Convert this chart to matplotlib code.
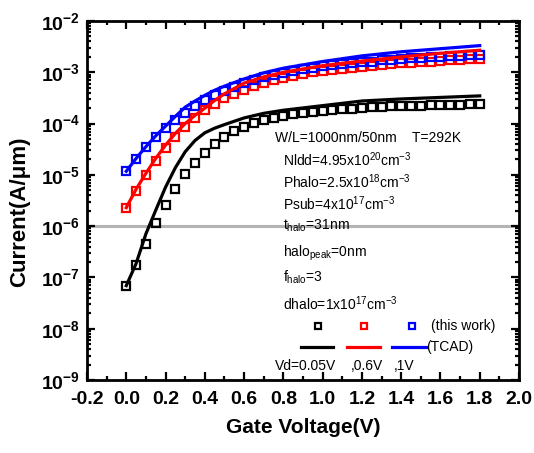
import numpy as np
import matplotlib
matplotlib.use("Agg")
import matplotlib.pyplot as plt
from matplotlib.ticker import MultipleLocator, LogLocator, FuncFormatter, NullFormatter

plt.rcParams["font.family"] = ["Liberation Sans", "DejaVu Sans"]
plt.rcParams["mathtext.fontset"] = "custom"
plt.rcParams["mathtext.rm"] = "Liberation Sans"
plt.rcParams["mathtext.it"] = "Liberation Sans"
plt.rcParams["mathtext.bf"] = "Liberation Sans:bold"

# Vg de las mediciones (this work), paso 0.05 V
vg_sq = np.round(np.arange(0, 37) * 0.05, 2)

# log10(I)
black_sq = [-7.16, -6.75, -6.34, -5.94, -5.59, -5.28, -4.99, -4.76, -4.57, -4.40,
            -4.27, -4.15, -4.06, -3.99, -3.93, -3.89, -3.85, -3.82, -3.79, -3.77,
            -3.75, -3.73, -3.72, -3.71, -3.69, -3.68, -3.67, -3.66, -3.66, -3.65,
            -3.65, -3.64, -3.64, -3.63, -3.63, -3.62, -3.62]
red_sq = [-5.65, -5.31, -5.01, -4.73, -4.48, -4.26, -4.06, -3.89, -3.74, -3.61,
          -3.50, -3.42, -3.34, -3.27, -3.21, -3.16, -3.11, -3.07, -3.03, -3.00,
          -2.97, -2.95, -2.93, -2.91, -2.89, -2.87, -2.85, -2.84, -2.82, -2.81,
          -2.80, -2.79, -2.78, -2.77, -2.76, -2.75, -2.74]
blue_sq = [-4.93, -4.70, -4.46, -4.26, -4.09, -3.93, -3.79, -3.66, -3.54, -3.44,
           -3.36, -3.28, -3.21, -3.15, -3.10, -3.05, -3.01, -2.97, -2.94, -2.91,
           -2.88, -2.86, -2.84, -2.82, -2.80, -2.79, -2.77, -2.76, -2.74, -2.73,
           -2.72, -2.71, -2.70, -2.69, -2.68, -2.67, -2.66]

# TCAD
vg_line = [0.0, 0.05, 0.1, 0.15, 0.2, 0.25, 0.3, 0.35, 0.4, 0.45, 0.5, 0.6, 0.7, 0.8, 1.0, 1.2, 1.4, 1.6, 1.8]
black_tcad = [-7.16, -6.73, -6.15, -5.69, -5.24, -4.86, -4.55, -4.33, -4.18, -4.09, -4.02,
              -3.89, -3.80, -3.74, -3.65, -3.56, -3.52, -3.49, -3.46]
red_tcad = [-5.64, -5.28, -4.97, -4.68, -4.42, -4.19, -4.00, -3.84, -3.70, -3.55, -3.42,
            -3.21, -3.09, -3.00, -2.87, -2.78, -2.70, -2.63, -2.57]
blue_tcad = [-4.93, -4.68, -4.45, -4.24, -4.05, -3.86, -3.68, -3.56, -3.45, -3.35, -3.27,
             -3.13, -3.01, -2.92, -2.79, -2.68, -2.60, -2.54, -2.48]

colors = ["black", "red", "blue"]

W, H = 534, 453
L, R, T, B = 87, 519, 21, 380

fig = plt.figure(figsize=(W / 100, H / 100), dpi=100)
ax = fig.add_axes([L / W, 1 - B / H, (R - L) / W, (B - T) / H])


def pa(px, py):
    return (px - L) / (R - L), (B - py) / (B - T)


ax.axhline(1e-6, color="#b4b4b4", lw=2.2, zorder=1)

for sq, ln, c in zip([black_sq, red_sq, blue_sq], [black_tcad, red_tcad, blue_tcad], colors):
    ax.plot(vg_sq, 10 ** np.array(sq), ls="none", marker="s", ms=6.2, mfc="none",
            mec=c, mew=1.6, zorder=3)
    ax.plot(vg_line, 10 ** np.array(ln), color=c, lw=2.3, zorder=4)

ax.set_yscale("log")
ax.set_xlim(-0.2, 2.0)
ax.set_ylim(1e-9, 1e-2)

ax.xaxis.set_major_locator(MultipleLocator(0.2))
ax.xaxis.set_minor_locator(MultipleLocator(0.1))
ax.xaxis.set_major_formatter(FuncFormatter(lambda v, p: f"{v:.1f}"))
ax.yaxis.set_major_locator(LogLocator(base=10, numticks=20))
ax.yaxis.set_minor_locator(LogLocator(base=10, subs=np.arange(2, 10), numticks=20))
ax.yaxis.set_minor_formatter(NullFormatter())
ax.yaxis.set_major_formatter(FuncFormatter(lambda v, p: r"$\mathbf{10^{%d}}$" % round(np.log10(v))))

ax.tick_params(which="both", direction="in", top=True, right=True, width=1.6)
ax.tick_params(which="major", length=6)
ax.tick_params(which="minor", length=3)
ax.tick_params(axis="x", which="major", pad=8, labelsize=14)
ax.tick_params(axis="y", which="major", pad=5, labelsize=14)
for lab in ax.get_xticklabels():
    lab.set_fontweight("bold")
for s in ax.spines.values():
    s.set_linewidth(2)

ax.set_xlabel("Gate Voltage(V)", fontsize=15, fontweight="bold", labelpad=7)
fig.text(20 / W, 1 - 212 / H, "Current(A/μm)", rotation=90, fontsize=16,
         fontweight="bold", ha="center", va="center")

# --- Anotaciones ---
notes = [
    (275, 138, r"W/L=1000nm/50nm    T=292K"),
    (283, 160, r"Nldd=4.95x10$^{20}$cm$^{-3}$"),
    (283, 182, r"Phalo=2.5x10$^{18}$cm$^{-3}$"),
    (283, 204, r"Psub=4x10$^{17}$cm$^{-3}$"),
    (283, 226, r"t$_{\mathregular{halo}}$=31nm"),
    (283, 253, r"halo$_{\mathregular{peak}}$=0nm"),
    (283, 277, r"f$_{\mathregular{halo}}$=3"),
    (283, 304, r"dhalo=1x10$^{17}$cm$^{-3}$"),
]
for px, py, txt in notes:
    ax.text(*pa(px, py), txt, transform=ax.transAxes, fontsize=10, va="center", ha="left")

# leyenda manual
for mx, c in zip([318, 364, 412], colors):
    ax.plot(*pa(mx, 326), transform=ax.transAxes, marker="s", ms=5, mfc="none",
            mec=c, mew=1.6, clip_on=False)
ax.text(*pa(431, 326), "(this work)", transform=ax.transAxes, fontsize=10, va="center")
for (x0, x1), c in zip([(301, 333), (347, 380), (392, 426)], colors):
    ax.plot([pa(x0, 347)[0], pa(x1, 347)[0]], [pa(x0, 347)[1]] * 2, transform=ax.transAxes,
            color=c, lw=2.3, clip_on=False)
ax.text(*pa(426, 347), "(TCAD)", transform=ax.transAxes, fontsize=10, va="center")
ax.text(*pa(275, 366), "Vd=0.05V", transform=ax.transAxes, fontsize=10, va="center")
ax.text(*pa(351, 366), ",0.6V", transform=ax.transAxes, fontsize=10, va="center")
ax.text(*pa(394, 366), ",1V", transform=ax.transAxes, fontsize=10, va="center")

fig.savefig("out.png", dpi=100)
